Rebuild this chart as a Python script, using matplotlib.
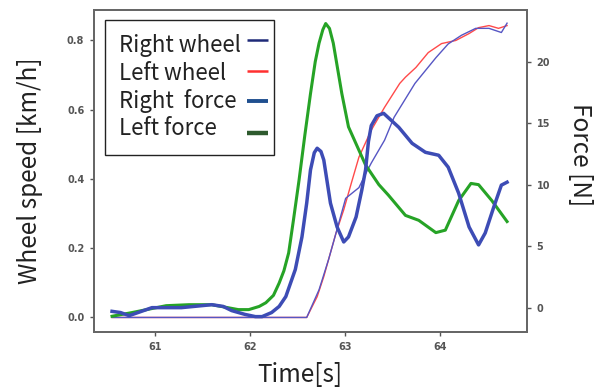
import matplotlib
matplotlib.use("Agg")
import matplotlib.pyplot as plt
from matplotlib.lines import Line2D
from matplotlib.patches import Rectangle

# ---- data ----
t_right_wheel = [60.55, 62.60, 62.73, 62.83, 62.91, 63.01, 63.15, 63.23, 63.28, 63.42, 63.52,
                 63.63, 63.74, 63.96, 64.09, 64.23, 64.38, 64.52, 64.65, 64.71]
v_right_wheel = [0.0, 0.0, 0.08, 0.167, 0.245, 0.344, 0.375, 0.42, 0.446, 0.512, 0.578,
                 0.627, 0.676, 0.75, 0.79, 0.815, 0.835, 0.835, 0.823, 0.85]

t_left_wheel = [60.55, 62.60, 62.71, 62.78, 62.83, 62.91, 62.99, 63.07, 63.15, 63.28, 63.42,
                63.58, 63.64, 63.75, 63.88, 64.02, 64.17, 64.31, 64.41, 64.52, 64.62, 64.71]
v_left_wheel = [0.0, 0.0, 0.06, 0.118, 0.167, 0.245, 0.311, 0.388, 0.463, 0.541, 0.607,
                0.676, 0.694, 0.722, 0.765, 0.791, 0.80, 0.82, 0.837, 0.843, 0.835, 0.843]

t_right_force = [60.55, 60.64, 60.73, 60.86, 60.97, 61.28, 61.60, 61.72, 61.81, 61.95, 62.06,
                 62.13, 62.23, 62.31, 62.38, 62.48, 62.55, 62.60, 62.64, 62.68, 62.71, 62.75,
                 62.78, 62.85, 62.92, 62.99, 63.04, 63.12, 63.18, 63.22, 63.25, 63.28, 63.34,
                 63.41, 63.57, 63.71, 63.85, 63.99, 64.09, 64.20, 64.31, 64.41, 64.48, 64.57,
                 64.65, 64.71]
f_right_force = [-0.3, -0.4, -0.65, -0.3, 0.0, 0.0, 0.24, 0.1, -0.24, -0.55, -0.73,
                 -0.73, -0.4, 0.1, 0.9, 3.1, 5.75, 8.5, 11.2, 12.6, 12.96, 12.7,
                 12.0, 8.5, 6.56, 5.34, 5.75, 7.37, 9.55, 11.2, 13.5, 14.8, 15.6,
                 15.8, 14.66, 13.36, 12.63, 12.39, 11.42, 9.31, 6.56, 5.1, 6.07, 8.18,
                 9.96, 10.2]

t_left_force = [60.55, 60.76, 61.12, 61.36, 61.60, 61.88, 61.99, 62.10, 62.17, 62.25, 62.31,
                62.36, 62.41, 62.46, 62.52, 62.58, 62.64, 62.69, 62.73, 62.77, 62.80, 62.84,
                62.88, 62.97, 63.04, 63.15, 63.22, 63.36, 63.46, 63.64, 63.78, 63.96, 64.06,
                64.20, 64.33, 64.41, 64.55, 64.71]
f_left_force = [-0.7, -0.4, 0.16, 0.24, 0.24, -0.16, -0.16, 0.1, 0.4, 1.0, 2.0,
                3.0, 4.45, 7.1, 10.4, 14.0, 17.4, 20.0, 21.5, 22.6, 23.1, 22.7,
                21.5, 17.4, 14.7, 12.8, 11.6, 10.0, 9.15, 7.5, 7.1, 6.1, 6.3,
                8.7, 10.1, 10.0, 8.7, 7.0]

x_ticks = [61, 62, 63, 64]
speed_ticks = [0.0, 0.2, 0.4, 0.6, 0.8]
force_ticks = [0, 5, 10, 15, 20]
legend_labels = ["Right wheel", "Left wheel", "Right  force", "Left force"]

# ---- figure ----
fig = plt.figure(figsize=(6.04, 3.90), dpi=100)
ax = fig.add_axes([94/604, 1 - 332/390, (527-94)/604, (332-10)/390])
ax2 = ax.twinx()

ax.plot(t_left_wheel, v_left_wheel, color="#ff4a4a", lw=1.0)
ax.plot(t_right_wheel, v_right_wheel, color="#5656c4", lw=1.0)
ax2.plot(t_left_force, f_left_force, color="#26a326", lw=2.2)
ax2.plot(t_right_force, f_right_force, color="#3d4cb5", lw=2.5)

ax.set_xlim(60.36, 64.92)
ax.set_ylim(-0.042, 0.888)
ax2.set_ylim(-1.98, 24.2)

ax.set_xticks(x_ticks)
ax.set_yticks(speed_ticks)
ax2.set_yticks(force_ticks)
ax.set_xticklabels([str(v) for v in x_ticks])
ax.set_yticklabels([f"{v:.1f}" for v in speed_ticks])
ax2.set_yticklabels([str(v) for v in force_ticks])

gray = "#555555"
for a in (ax, ax2):
    for s in a.spines.values():
        s.set_color("#666666")
        s.set_linewidth(1.3)
    a.tick_params(colors=gray, labelsize=7, length=3, width=1, pad=4)
    for lab in a.get_xticklabels() + a.get_yticklabels():
        lab.set_fontweight("bold")
        lab.set_color(gray)

fam = ["Noto Sans CJK JP", "DejaVu Sans"]
lab_font = dict(family=fam, fontsize=17.5, color="#222222")
ax.set_ylabel("Wheel speed [km/h]", labelpad=17, **lab_font)
ax.set_xlabel("Time[s]", labelpad=7.5, **lab_font)
ax.xaxis.label.set_x(0.475)
ax2.set_ylabel("Force [N]", rotation=270, labelpad=31, **lab_font)
ax2.yaxis.label.set_y(0.55)

# ---- legend (drawn by hand: text left, handle on the right) ----
def px_to_ax(px, py):
    return (px - 94) / 433, (332 - py) / 322

x0, y0 = px_to_ax(105, 155)
x1, y1 = px_to_ax(274, 20)
ax2.add_patch(Rectangle((x0, y0), x1 - x0, y1 - y0, transform=ax2.transAxes,
                        facecolor="white", edgecolor="#222222", lw=1.0, zorder=10))
handle_styles = [("#1e2a78", 1.8), ("#ff3030", 1.8), ("#1f4f8f", 2.8), ("#2e5a2e", 3.2)]
baselines = [52, 80, 108, 135]
handle_y = [40, 71, 101, 133]
for lab, base, hy, (col, lw) in zip(legend_labels, baselines, handle_y, handle_styles):
    tx, ty = px_to_ax(119, base)
    ax2.text(tx, ty, lab, transform=ax2.transAxes, ha="left", va="baseline",
             family=fam, fontsize=16, color="#222222", zorder=11)
    hx0, hyy = px_to_ax(247, hy)
    hx1, _ = px_to_ax(268, hy)
    ax2.add_line(Line2D([hx0, hx1], [hyy, hyy], transform=ax2.transAxes,
                        color=col, lw=lw, solid_capstyle="butt", zorder=11))

fig.savefig("out.png", dpi=100)
